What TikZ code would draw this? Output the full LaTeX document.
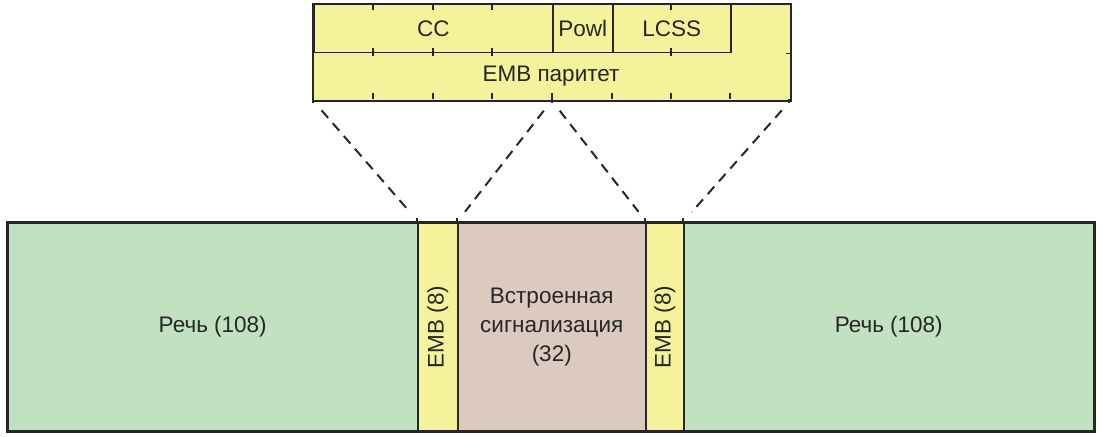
\documentclass[tikz,border=0pt]{standalone}
\usepackage{fontspec}
\setmainfont{Liberation Sans}
\usetikzlibrary{positioning}
\definecolor{FieldYellow}{HTML}{F4F29A}
\definecolor{SpeechGreen}{HTML}{C2E1C1}
\definecolor{SignalTan}{HTML}{DCCAC0}
\definecolor{LineGray}{HTML}{262626}

\begin{document}
\begin{tikzpicture}[x=1pt,y=-1pt,
cell/.style={draw=LineGray,line width=1.5pt,inner sep=0pt,anchor=north west,align=center,font=\fontsize{22.5}{29}\selectfont,text=LineGray},
txt/.style={inner sep=0pt,align=center,font=\fontsize{22.5}{29}\selectfont,text=LineGray},
frame/.style={draw=LineGray,line width=2.2pt},
zoomline/.style={draw=LineGray,line width=2pt,dash pattern=on 10pt off 7pt,shorten <=13pt,shorten >=13pt},
tick/.style={draw=LineGray,line width=1.5pt}
]
\useasboundingbox (0,0) rectangle (1102,436);
% frame of the burst
\node[cell,fill=SpeechGreen,minimum width=410pt,minimum height=208pt] (speechL) at (7,222) {Речь (108)};
\node[cell,fill=FieldYellow,minimum width=40pt,minimum height=208pt] (embL) at (417,222) {};
\node[cell,fill=SignalTan,minimum width=188pt,minimum height=208pt] (signal) at (457,222) {Встроенная\\сигнализация\\(32)};
\node[cell,fill=FieldYellow,minimum width=38pt,minimum height=208pt] (embR) at (645,222) {};
\node[cell,fill=SpeechGreen,minimum width=410pt,minimum height=208pt] (speechR) at (683,222) {Речь (108)};
\draw[frame] (speechL.north west) rectangle (speechR.south east);
\node[txt,rotate=90] (embLtext) at (embL.center) {EMB (8)};
\node[txt,rotate=90] (embRtext) at (embR.center) {EMB (8)};
\foreach \x in {417,457,645,683}
  \draw[tick] (\x,222) -- ++(0,-4);
% EMB field layout
\node[cell,fill=FieldYellow,draw=none,minimum width=476pt,minimum height=95pt] (emb) at (313,4) {};
\node[cell,fill=FieldYellow,minimum width=239pt,minimum height=48pt] (cc) at (313,4) {CC};
\node[cell,fill=FieldYellow,minimum width=60pt,minimum height=48pt] (powl) at (552,4) {Powl};
\node[cell,fill=FieldYellow,minimum width=118pt,minimum height=48pt] (lcss) at (612,4) {LCSS};
\node[txt] (parity) at (551,76) {EMB паритет};
\draw[frame,line width=2pt] (emb.north west) rectangle (emb.south east);
\foreach \x in {373,433,492,671} {
  \draw[tick] (\x,4) -- ++(0,6);
  \draw[tick] (\x,48) -- ++(0,8);
}
\foreach \x in {373,433,492,552,612,671,730}
  \draw[tick] (\x,99) -- ++(0,-6);
\foreach \x in {313,552,789}
  \draw[tick] (\x,99) -- ++(0,4);
\draw[tick] (emb.east |- cc.south) -- ++(-5,0);
% zoom lines
\draw[zoomline] (emb.south west) -- (speechL.north east);
\draw[zoomline] (emb.south) -- (signal.north west);
\draw[zoomline] (emb.south) -- (signal.north east);
\draw[zoomline] (emb.south east) -- (speechR.north west);
\end{tikzpicture}
\end{document}
